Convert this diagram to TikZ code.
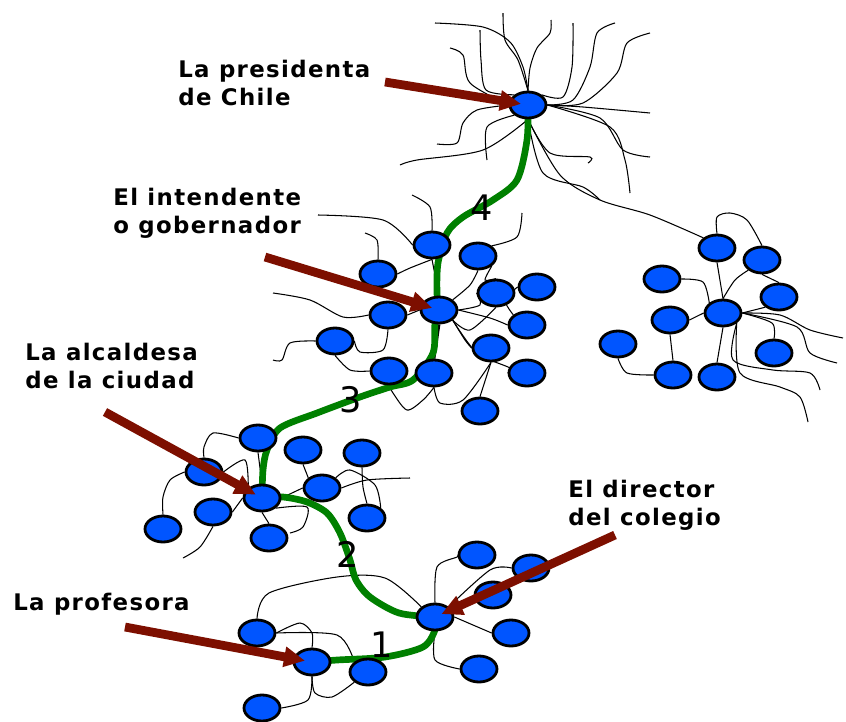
\documentclass[tikz,border=0pt]{standalone}
\usepackage{fontspec}
\setsansfont{DejaVu Sans}
\usetikzlibrary{shapes.geometric,arrows.meta,backgrounds}
\definecolor{cellblue}{RGB}{0,85,255}
\definecolor{axongreen}{RGB}{0,128,0}
\definecolor{pointerred}{RGB}{125,15,0}

\begin{document}
\begin{tikzpicture}
  [
    x=0.02cm, y=-0.02cm,
    cell/.style={
      ellipse, draw=black, line width=1.6pt, fill=cellblue,
      minimum width=0.72cm, minimum height=0.52cm, inner sep=0pt
    },
    tendril/.style={
      draw=black, line width=0.6pt
    },
    axon/.style={
      draw=axongreen, line width=3.8pt, line cap=round
    },
    pointer/.style={
      draw=pointerred, line width=5pt,
      -{Triangle[length=12pt,width=11pt]}, shorten >=4pt
    },
    role/.style={
      anchor=north west, align=left, inner sep=0pt,
      font=\sffamily\bfseries\fontsize{13}{16}\selectfont\addfontfeature{LetterSpace=6}
    },
    digit/.style={
      inner sep=0pt, font=\sffamily\fontsize{20}{20}\selectfont
    }
  ]
\useasboundingbox (0,0) rectangle (846,721);

% Presidenta
\node (pres) [cell] at (528,105) {};

% Intendente
\foreach \name/\x/\y in {i1/432/245, i2/478/256, i3/378/274, i4/496/293,
    i5/537/287, int/439/310, i6/388/315, i7/527/325, i8/335/341,
    i9/491/348, i10/389/371, i11/434/373, i12/527/373, i13/480/411}
  \node (\name) [cell] at (\x,\y) {};

% Otro grupo
\foreach \name/\x/\y in {r1/717/248, r2/762/260, r3/662/279, r4/779/297,
    rc/723/313, r5/670/320, r6/618/344, r7/774/353, r8/673/375, r9/717/377}
  \node (\name) [cell] at (\x,\y) {};

% Alcaldesa
\foreach \name/\x/\y in {a1/258/438, a2/303/450, a3/362/453, a4/204/472,
    alc/262/498, a5/322/488, a6/213/512, a7/367/518, a8/163/529, a9/269/538}
  \node (\name) [cell] at (\x,\y) {};

% Director y profesora
\foreach \name/\x/\y in {b1/477/555, b2/531/568, b3/493/595, dir/435/617,
    b4/511/633, b5/257/633, prof/312/662, b6/368/672, b7/479/669, b8/262/708}
  \node (\name) [cell] at (\x,\y) {};

\begin{scope}[on background layer]
% tendrils round the presidenta
\draw [tendril] plot[smooth] coordinates {(pres.north) (523,67) (510,42) (483,27) (435,23)};
\draw [tendril] plot[smooth] coordinates {(pres.north) (518,60) (505,40) (503,13)};
\draw [tendril] plot[smooth] coordinates {(pres.north) (530,68) (537,48) (550,33) (551,20)};
\draw [tendril] plot[smooth] coordinates {(pres.north west) (486,90) (481,60) (480,30)};
\draw [tendril] plot[smooth] coordinates {(pres.west) (470,83) (463,55) (450,48)};
\draw [tendril] plot[smooth] coordinates {(pres.north east) (563,97) (572,67) (573,23)};
\draw [tendril] plot[smooth] coordinates {(pres.east) (573,100) (590,67) (597,33) (615,23)};
\draw [tendril] plot[smooth] coordinates {(pres.east) (583,103) (617,73) (627,43) (650,33)};
\draw [tendril] plot[smooth] coordinates {(pres.east) (583,107) (650,113)};
\draw [tendril] plot[smooth] coordinates {(pres.east) (600,118) (623,150) (650,157)};
\draw [tendril] plot[smooth] coordinates {(pres.east) (610,127) (625,160) (630,193)};
\draw [tendril] plot[smooth] coordinates {(pres.south) (550,153) (590,157) (588,163)};
\draw [tendril] plot[smooth] coordinates {(pres.south) (543,173) (583,187) (600,200)};
\draw [tendril] plot[smooth] coordinates {(pres.west) (477,110) (463,123) (457,143) (437,144)};
\draw [tendril] plot[smooth] coordinates {(pres.south west) (487,127) (487,160)};
\draw [tendril] plot[smooth] coordinates {(pres.south) (483,150) (417,160) (400,165)};
\draw [tendril] plot[smooth] coordinates {(pres.south) (560,175) (600,200) (650,215) (r1.north west)};

% tendrils of the intendente
\draw [tendril] plot[smooth] coordinates {(i1.north) (430,207) (412,195)};
\draw [tendril] plot[smooth] coordinates {(i1.west) (383,220) (318,215)};
\draw [tendril] plot[smooth] coordinates {(i3.north) (377,240) (365,233)};
\draw [tendril] plot[smooth] coordinates {(i3.east) (410,268) (i1.south)};
\draw [tendril] plot[smooth] coordinates {(i2.north east) (517,237) (522,213)};
\draw [tendril] plot[smooth] coordinates {(i6.west) (343,317) (310,300) (273,293)};
\draw [tendril] plot[smooth] coordinates {(i8.west) (290,343) (282,360) (273,360)};
\draw [tendril] plot[smooth] coordinates {(i6.south) (383,350) (360,352) (i8.east)};
\draw [tendril] plot[smooth] coordinates {(i8.south) (350,370) (i10.west)};
\draw [tendril] (i1.south) -- (int.north);
\draw [tendril, line width=1.6pt] (int.south) -- (i11.north);
\draw [tendril] (i6.east) -- (int.west);
\draw [tendril] plot[smooth] coordinates {(i11.south) (423,400) (407,410) (393,393) (i10.south)};
\draw [tendril] plot[smooth] coordinates {(i11.south) (440,403) (463,400) (i9.south)};
\draw [tendril] (i9.south) -- (i13.north);
\draw [tendril] plot[smooth] coordinates {(int.south east) (477,353) (510,368) (i12.west)};
\draw [tendril] plot[smooth] coordinates {(int.east) (480,305) (i4.west)};
\draw [tendril] plot[smooth] coordinates {(int.east) (490,318) (i7.west)};
\draw [tendril] plot[smooth] coordinates {(int.north east) (470,285) (i2.south)};
\draw [tendril] plot[smooth] coordinates {(int.south east) (465,340) (i9.west)};
\draw [tendril] plot[smooth] coordinates {(i4.south) (470,330) (int.south east)};
\draw [tendril] plot[smooth] coordinates {(i4.north) (485,280) (i2.south east)};
\draw [tendril] plot[smooth] coordinates {(i5.west) (505,300) (i7.north west)};

% tendrils of the other group
\draw [tendril] plot[smooth] coordinates {(r1.north) (717,217) (730,213) (747,220) (r2.north)};
\draw [tendril] (r1.south) -- (rc.north);
\draw [tendril] plot[smooth] coordinates {(r3.east) (703,282) (rc.north west)};
\draw [tendril] (r2.south) -- (r4.north);
\draw [tendril] plot[smooth] coordinates {(r2.south west) (735,280) (rc.north)};
\draw [tendril] (rc.west) -- (r5.east);
\draw [tendril] (rc.east) -- (r4.south west);
\draw [tendril] (r5.south) -- (r8.north);
\draw [tendril] plot[smooth] coordinates {(r6.south) (627,373) (r8.west)};
\draw [tendril] (rc.south) -- (r9.north);
\draw [tendril] plot[smooth] coordinates {(r7.north) (772,323) (rc.east)};
\draw [tendril] plot[smooth] coordinates {(rc.east) (780,315) (810,330) (843,338)};
\draw [tendril] plot[smooth] coordinates {(rc.east) (797,327) (810,353) (837,363)};
\draw [tendril] plot[smooth] coordinates {(rc.south east) (733,360) (773,370) (810,373) (820,390)};
\draw [tendril] plot[smooth] coordinates {(rc.south east) (740,373) (780,387) (800,397) (808,422)};

% tendrils of the alcaldesa
\draw [tendril] plot[smooth] coordinates {(a1.west) (213,433) (204,447) (a4.north)};
\draw [tendril] plot[smooth] coordinates {(a4.west) (170,480) (163,497) (a8.north)};
\draw [tendril] plot[smooth] coordinates {(a6.south) (200,547) (183,558)};
\draw [tendril] (a1.south) -- (alc.north);
\draw [tendril] (a2.south) -- (a5.north west);
\draw [tendril] (alc.east) -- (a5.west);
\draw [tendril] plot[smooth] coordinates {(a5.east) (367,480) (410,478)};
\draw [tendril] plot[smooth] coordinates {(a3.south) (363,487) (a7.north)};
\draw [tendril] plot[smooth] coordinates {(a4.east) (245,460) (alc.north west)};
\draw [tendril] plot[smooth] coordinates {(alc.south east) (307,507) (303,527) (290,533)};
\draw [tendril] (a6.east) -- (alc.west);
\draw [tendril] (alc.south) -- (a9.north);
\draw [tendril] plot[smooth] coordinates {(a5.north east) (350,470) (375,485) (a7.north east)};

% tendrils of the director and the profesora
\draw [tendril] plot[smooth] coordinates {(b5.north) (269,593) (337,577) (385,578) (dir.north west)};
\draw [tendril] plot[smooth] coordinates {(b5.east) (337,635) (b6.north west)};
\draw [tendril] plot[smooth] coordinates {(b5.east) (300,623) (312,633) (prof.north)};
\draw [tendril] plot[smooth] coordinates {(prof.south) (315,693) (332,697) (b6.south west)};
\draw [tendril] plot[smooth] coordinates {(b8.east) (308,700) (prof.south)};
\draw [tendril] plot[smooth] coordinates {(dir.north) (437,567) (457,557) (b1.west)};
\draw [tendril] plot[smooth] coordinates {(dir.north east) (490,570) (b2.west)};
\draw [tendril] (dir.east) -- (b4.west);
\draw [tendril] plot[smooth] coordinates {(dir.south) (435,660) (b7.west)};

% the green chain
\draw [axon] plot[smooth] coordinates {(pres.center) (527,140) (517,180) (493,200) (463,217) (447,233) (438,263) (437,293) (int.center)};
\draw [axon] plot[smooth] coordinates {(int.center) (435,323) (433,353) (413,380) (390,387) (360,397) (317,413) (280,428) (267,450) (263,470) (alc.center)};
\draw [axon] plot[smooth] coordinates {(alc.center) (283,497) (307,502) (327,513) (340,533) (350,560) (356,580) (370,597) (399,613) (dir.center)};
\draw [axon] plot[smooth] coordinates {(dir.center) (435,630) (423,647) (385,657) (337,660) (prof.center)};
\end{scope}

% numbers on the chain
\node (n4) [digit] at (482,208) {4};
\node (n3) [digit] at (351,400) {3};
\node (n2) [digit] at (348,554) {2};
\node (n1) [digit] at (382,645) {1};

% roles and pointers
\node (tpres) [role] at (178,60)  {La presidenta\\de Chile};
\node (tint)  [role] at (113,188) {El intendente\\o gobernador};
\node (talc)  [role] at (25,343)  {La alcaldesa\\de la ciudad};
\node (tdir)  [role] at (568,480) {El director\\del colegio};
\node (tprof) [role] at (13,593)  {La profesora};

\coordinate (ppres) at (385,82);
\coordinate (pint)  at (265,257);
\coordinate (palc)  at (105,412);
\coordinate (pdir)  at (615,535);
\coordinate (pprof) at (125,627);

\draw [pointer] (ppres) -- (pres.center);
\draw [pointer] (pint)  -- (int.center);
\draw [pointer] (palc)  -- (alc.center);
\draw [pointer] (pdir)  -- (dir.center);
\draw [pointer] (pprof) -- (prof.center);

\end{tikzpicture}
\end{document}
